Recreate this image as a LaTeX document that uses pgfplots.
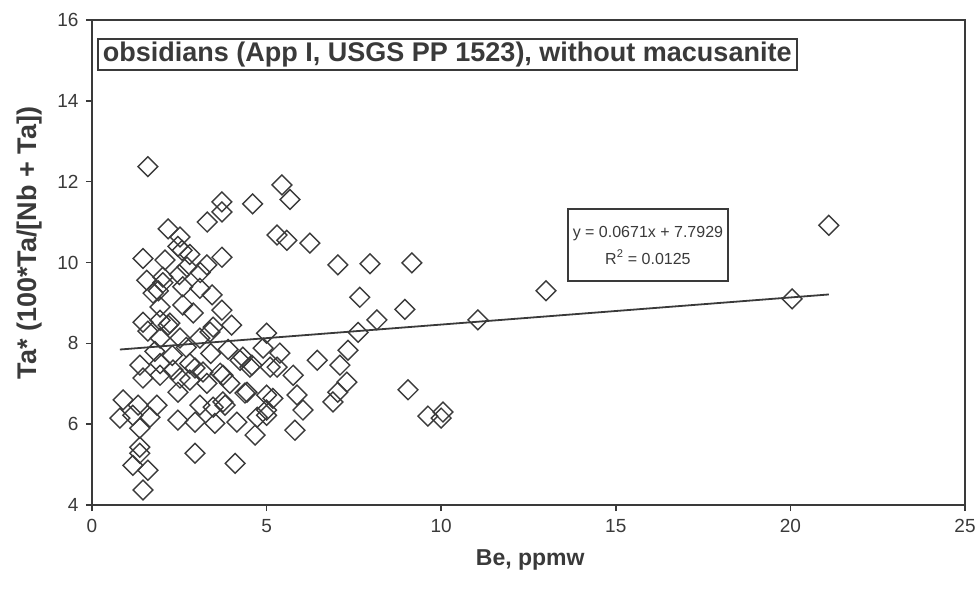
\documentclass[border=0pt]{standalone}
\usepackage{pgfplots}
\pgfplotsset{compat=1.18}
\usepackage{fontspec}
\setmainfont{Liberation Sans}
\definecolor{ink}{HTML}{3A3A3A}
\begin{document}
\begin{tikzpicture}
\begin{axis}[
 at={(0,0)}, anchor=south west,
 scale only axis, width=873pt, height=485pt,
 xmin=0, xmax=25, ymin=4, ymax=16,
 xtick={0,5,10,15,20,25}, ytick={4,6,8,10,12,14,16},
 tick align=outside, major tick length=6pt,
 xtick pos=bottom, ytick pos=left,
 axis line style={line width=2pt, color=ink},
 tick style={line width=1.5pt, color=ink},
 ticklabel style={font=\fontsize{19}{22}\selectfont, text=ink},
 xticklabel style={yshift=-5pt},
 yticklabel style={xshift=-4pt},
 /pgf/number format/assume math mode=true,
 xlabel={Be, ppmw},
 ylabel={Ta* (100*Ta/[Nb + Ta])},
 label style={font=\bfseries\fontsize{23}{26}\selectfont, text=ink},
 ylabel style={font=\bfseries\fontsize{27}{30}\selectfont},
 xlabel style={at={(axis description cs:0.502,-0.113)}, anchor=center},
 ylabel style={at={(axis description cs:-0.071,0.54)}, anchor=center},
]
\addplot[only marks, mark=square, mark size=7pt, mark options={rotate=45, line width=1.4pt, draw=ink, fill=none}] table {
x y
1.6 12.37
3.72 11.5
4.6 11.45
3.72 11.25
3.3 11.0
2.18 10.83
2.52 10.63
2.58 10.3
5.3 10.68
1.46 10.1
2.09 10.06
3.72 10.13
2.72 9.89
3.29 9.94
1.57 9.56
2.03 9.5
3.09 9.36
3.44 9.2
2.6 9.4
1.75 9.24
2.6 8.95
2.9 8.75
3.72 8.82
1.46 8.52
1.95 8.57
2.23 8.5
3.47 8.4
4.0 8.45
5.0 8.25
1.6 8.3
2.18 8.45
3.38 8.28
1.95 8.13
2.52 8.13
3.09 8.13
4.9 7.88
1.37 7.46
1.95 7.5
2.32 7.34
2.8 7.5
3.18 7.29
3.67 7.26
4.24 7.58
4.52 7.41
5.1 7.41
1.46 7.14
1.95 7.21
2.52 7.14
2.8 7.09
3.29 7.01
3.95 7.01
4.38 6.77
5.0 6.72
0.89 6.6
1.32 6.47
1.86 6.47
2.46 6.79
3.09 6.47
3.47 6.42
3.81 6.47
0.8 6.15
1.17 6.22
1.66 6.17
2.46 6.1
2.95 6.05
3.52 6.02
4.15 6.05
4.73 6.17
5.0 6.35
1.37 5.9
4.67 5.73
1.37 5.43
2.95 5.28
1.17 4.98
1.6 4.86
4.1 5.03
1.46 4.37
1.37 5.28
5.38 7.76
5.3 7.41
5.76 7.21
6.45 7.58
7.1 7.46
7.33 7.83
7.3 7.04
7.04 6.79
6.9 6.55
4.32 7.66
4.58 7.46
4.44 6.79
5.18 6.64
5.87 6.72
6.04 6.35
5.0 6.22
5.81 5.85
3.75 7.21
2.95 7.39
3.75 6.55
6.24 10.48
7.04 9.94
7.96 9.97
9.16 9.99
7.67 9.14
8.96 8.84
8.16 8.58
7.62 8.27
11.05 8.58
9.05 6.85
9.62 6.2
10.05 6.3
10.0 6.15
5.44 11.92
5.67 11.56
5.58 10.55
2.46 10.4
2.03 9.64
1.9 9.3
1.95 8.9
13.0 9.3
20.05 9.1
21.1 10.92
2.3 7.7
2.7 7.9
3.4 7.75
3.9 7.85
2.5 9.7
2.8 10.2
1.8 7.8
3.1 9.75
};
\addplot[ink, line width=1.8pt] coordinates {(0.8,7.847) (21.1,9.209)};
\node[draw=ink, line width=2pt, anchor=north west, inner xsep=5pt, inner ysep=3pt, text=ink, font=\bfseries\fontsize{27}{29}\selectfont] at (axis cs:0.14,15.55) {obsidians (App I, USGS PP 1523), without macusanite};
\node[draw=ink, line width=1.8pt, fill=white, align=center, minimum width=160pt, minimum height=72pt, inner sep=0pt, text=ink, font=\fontsize{16}{27}\selectfont] at (axis cs:15.92,10.43) {y = 0.0671x + 7.7929\\R\textsuperscript{2} = 0.0125};
\end{axis}
\pgfresetboundingbox
\path[use as bounding box] (-92pt,-89pt) rectangle (887pt,505pt);
\end{tikzpicture}
\end{document}
